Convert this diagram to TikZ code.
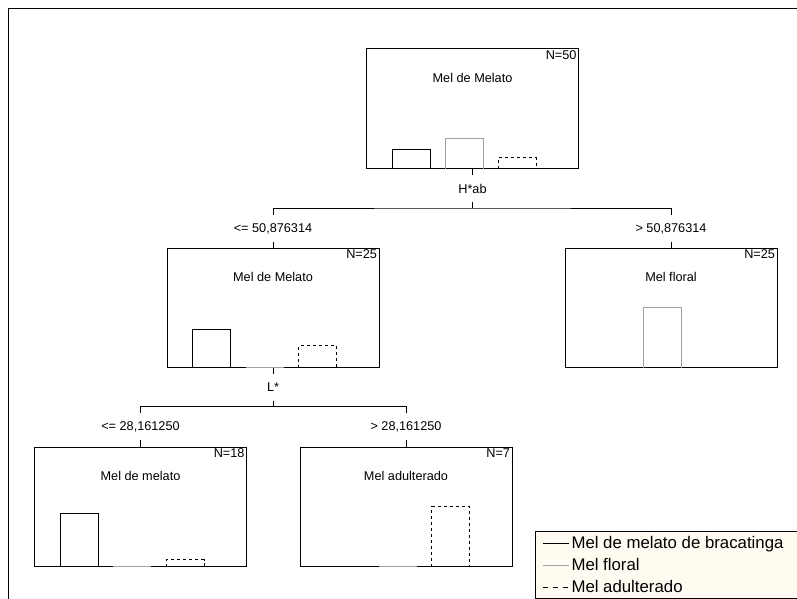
\documentclass[tikz,border=0pt]{standalone}
\usepackage{fontspec}
\setmainfont{Liberation Sans}
\usetikzlibrary{positioning}
\definecolor{floralgray}{RGB}{160,160,160}
\definecolor{legendfill}{RGB}{255,251,240}
% bars of one node: box, black, gray, dashed (heights)
\newcommand{\histbars}[4]{%
  \draw ([xshift=26pt]#1.south west) -- ++(0,-#2) -- ++(38,0) -- ++(0,#2);
  \draw[floralgray] ([xshift=79pt]#1.south west) -- ++(0,-#3) -- ++(38,0) -- ++(0,#3);
  \draw[dash pattern=on 3pt off 3pt] ([xshift=132pt]#1.south west) -- ++(0,-#4) -- ++(38,0) -- ++(0,#4);
}

\begin{document}
\begin{tikzpicture}[x=1pt,y=-1pt,line width=1pt,
  font=\fontsize{12.7}{14}\selectfont,
  treebox/.style={draw,minimum width=212pt,minimum height=119pt,inner sep=0pt},
  splitlbl/.style={inner sep=0pt,minimum height=26pt,text height=9pt,text depth=0pt},
  countlbl/.style={anchor=north east,inner sep=2pt},
  leglbl/.style={anchor=base west,inner sep=0pt,font=\fontsize{16.8}{18}\selectfont}]
\useasboundingbox (0,0) rectangle (797,599);
\draw (8,620) -- (8,9) -- (820,9);

% tree nodes
\node[treebox] (root) at (472.5,108.5) {};
\node[splitlbl] (hab) at (472.5,188.5) {H*ab};
\node[splitlbl] (condl) at (273,228) {<= 50,876314};
\node[splitlbl] (condr) at (671,228) {> 50,876314};
\node[treebox] (lbox) at (273,307.5) {};
\node[treebox] (rbox) at (671,307.5) {};
\node[splitlbl] (lstar) at (273,387) {L*};
\node[splitlbl] (condll) at (140.5,426) {<= 28,161250};
\node[splitlbl] (condlr) at (406,426) {> 28,161250};
\node[treebox] (blbox) at (140.5,506.5) {};
\node[treebox] (brbox) at (406,506.5) {};

% class names and counts
\node (rootcls) at ([yshift=-29pt]root.north) {Mel de Melato};
\node[countlbl] (rootn) at (root.north east) {N=50};
\node (lcls) at ([yshift=-29pt]lbox.north) {Mel de Melato};
\node[countlbl] (ln) at (lbox.north east) {N=25};
\node (rcls) at ([yshift=-29pt]rbox.north) {Mel floral};
\node[countlbl] (rn) at (rbox.north east) {N=25};
\node (blcls) at ([yshift=-29pt]blbox.north) {Mel de melato};
\node[countlbl] (bln) at (blbox.north east) {N=18};
\node (brcls) at ([yshift=-29pt]brbox.north) {Mel adulterado};
\node[countlbl] (brn) at (brbox.north east) {N=7};

% bars
\histbars{root}{19.2}{30}{10.8}
\histbars{lbox}{38.4}{0}{21.6}
\histbars{rbox}{0}{60}{0}
\histbars{blbox}{53.3}{0}{6.7}
\histbars{brbox}{0}{0}{60}

% connectors
\coordinate (habjoin) at ([yshift=-6pt]hab.south);
\draw (root) -- (hab);
\draw (hab) -- (habjoin);
\draw (condl.north) |- (habjoin) -| (condr.north);
\draw (condl) -- (lbox);
\draw (condr) -- (rbox);
\coordinate (lstarjoin) at ([yshift=-6pt]lstar.south);
\draw (lbox) -- (lstar);
\draw (lstar) -- (lstarjoin);
\draw (condll.north) |- (lstarjoin) -| (condlr.north);
\draw (condll) -- (blbox);
\draw (condlr) -- (brbox);

% legend
\draw[fill=legendfill] (535,531) rectangle (820,598);
\node[leglbl] (legmel) at (571,548) {Mel de melato de bracatinga};
\node[leglbl] (legflo) at (571,570) {Mel floral};
\node[leglbl] (legadu) at (571,592) {Mel adulterado};
\draw (543,543) -- (569,543);
\draw[floralgray] (543,565) -- (569,565);
\draw[dash pattern=on 5pt off 5pt] (543,587) -- (569,587);
\end{tikzpicture}
\end{document}
